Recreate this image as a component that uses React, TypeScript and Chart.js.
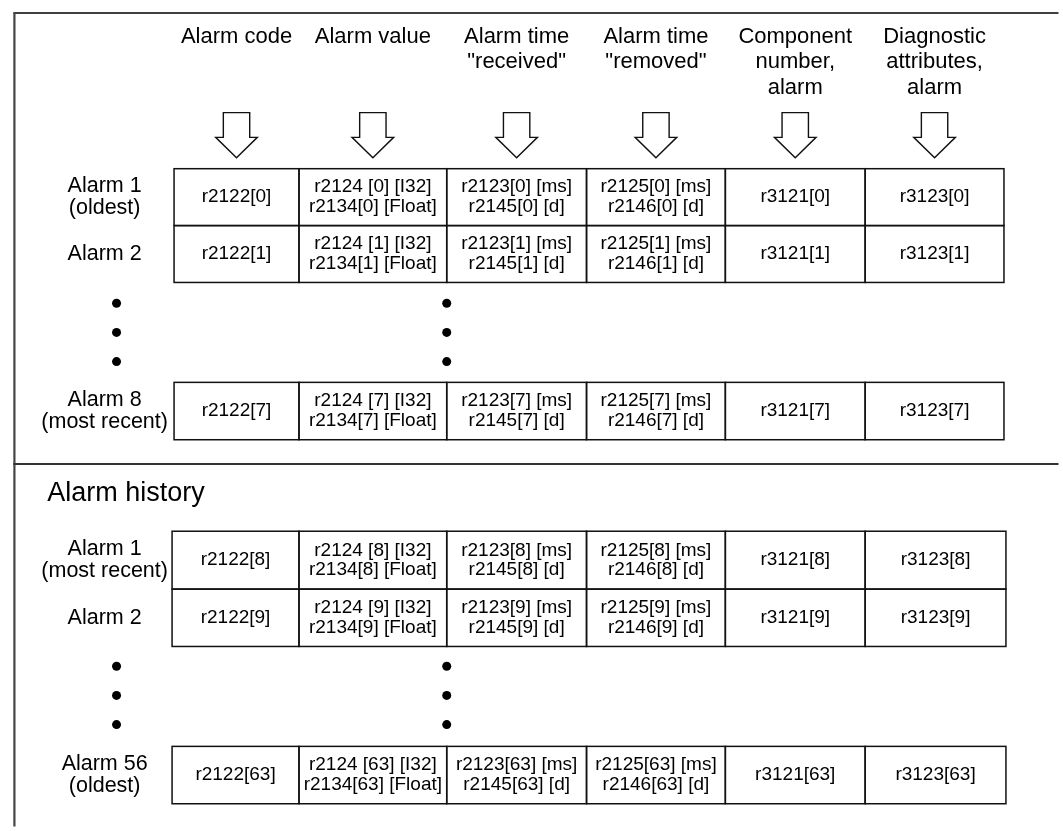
import React, { useEffect, useRef } from "react";
import { Chart, registerables } from "chart.js";

Chart.register(...registerables);

const W = 1063;
const H = 831;

// ---------- data ----------
const columnHeaders: string[][] = [
  ["Alarm code"],
  ["Alarm value"],
  ["Alarm time", "\"received\""],
  ["Alarm time", "\"removed\""],
  ["Component", "number,", "alarm"],
  ["Diagnostic", "attributes,", "alarm"],
];

const currentRowLabels: string[][] = [["Alarm 1", "(oldest)"], ["Alarm 2"], ["Alarm 8", "(most recent)"]];
const historyRowLabels: string[][] = [["Alarm 1", "(most recent)"], ["Alarm 2"], ["Alarm 56", "(oldest)"]];

const currentIndices = ["0", "1", "7"];
const historyIndices = ["8", "9", "63"];

const sectionTitle = "Alarm history";

// parameter text per column, {i} replaced by the index
const cellTemplates: string[][] = [
  ["r2122[{i}]"],
  ["r2124 [{i}] [I32]", "r2134[{i}] [Float]"],
  ["r2123[{i}] [ms]", "r2145[{i}] [d]"],
  ["r2125[{i}] [ms]", "r2146[{i}] [d]"],
  ["r3121[{i}]"],
  ["r3123[{i}]"],
];

// ---------- layout ----------
const colEdgesCurrent = [171, 297, 446, 587, 727, 868, 1008];
const colEdgesHistory = [169, 297, 446, 587, 727, 868, 1010];
// row boxes: [top, bottom]
const currentRows: [number, number][] = [[166, 223.5], [223.5, 281], [382, 440]];
const historyRows: [number, number][] = [[532.5, 591], [591, 649], [750, 808]];
const currentDotsY = [302, 331.5, 361];
const historyDotsY = [669, 698.5, 728];
const dotsX = [113, 446];
const labelX = 101;
const headerLineY = [33, 58.5, 84];
const FONT = "\"Liberation Sans\", Arial, sans-serif";

const dotPoints = [
  ...currentDotsY.flatMap((y) => dotsX.map((x) => ({ x, y }))),
  ...historyDotsY.flatMap((y) => dotsX.map((x) => ({ x, y }))),
];

const diagramPlugin = {
  id: "diagram",
  beforeDatasetsDraw(chart: any) {
    const ctx: CanvasRenderingContext2D = chart.ctx;
    const xs = chart.scales.x;
    const ys = chart.scales.y;
    const px = (v: number) => xs.getPixelForValue(v);
    const py = (v: number) => ys.getPixelForValue(v);

    ctx.save();
    ctx.fillStyle = "#fff";
    ctx.fillRect(0, 0, chart.width, chart.height);

    // frame
    ctx.strokeStyle = "#000";
    ctx.lineWidth = 1.5;
    ctx.beginPath();
    ctx.moveTo(px(9), py(8.5));
    ctx.lineTo(px(W), py(8.5));
    ctx.stroke();
    ctx.strokeStyle = "#444";
    ctx.lineWidth = 2.2;
    ctx.beginPath();
    ctx.moveTo(px(10), py(8));
    ctx.lineTo(px(10), py(H));
    ctx.stroke();
    ctx.strokeStyle = "#333";
    ctx.lineWidth = 2;
    ctx.beginPath();
    ctx.moveTo(px(9), py(464.5));
    ctx.lineTo(px(W), py(464.5));
    ctx.stroke();

    ctx.fillStyle = "#000";
    ctx.textAlign = "center";
    ctx.textBaseline = "middle";

    // headers + arrows
    columnHeaders.forEach((lines, c) => {
      const cx = (colEdgesCurrent[c] + colEdgesCurrent[c + 1]) / 2;
      ctx.font = `22px ${FONT}`;
      lines.forEach((t, k) => ctx.fillText(t, px(cx), py(headerLineY[k])));
      // arrow
      const sw = 13.3, hw = 21, top = 109.3, hy = 134.3, tip = 155;
      ctx.beginPath();
      ctx.moveTo(px(cx - sw), py(top));
      ctx.lineTo(px(cx + sw), py(top));
      ctx.lineTo(px(cx + sw), py(hy));
      ctx.lineTo(px(cx + hw), py(hy));
      ctx.lineTo(px(cx), py(tip));
      ctx.lineTo(px(cx - hw), py(hy));
      ctx.lineTo(px(cx - sw), py(hy));
      ctx.closePath();
      ctx.fillStyle = "#fff";
      ctx.fill();
      ctx.strokeStyle = "#111";
      ctx.lineWidth = 1.4;
      ctx.stroke();
      ctx.fillStyle = "#000";
    });

    const drawTable = (edges: number[], rows: [number, number][], labels: string[][], idx: string[]) => {
      rows.forEach(([t, b], r) => {
        const cy = (t + b) / 2;
        // label
        ctx.font = `21.5px ${FONT}`;
        const lab = labels[r];
        const lh = 23;
        lab.forEach((s, k) => ctx.fillText(s, px(labelX), py(cy + (k - (lab.length - 1) / 2) * lh)));
        // cells
        for (let c = 0; c < 6; c++) {
          const x0 = edges[c], x1 = edges[c + 1];
          ctx.strokeStyle = "#111";
          ctx.lineWidth = 1.5;
          ctx.strokeRect(px(x0), py(t), px(x1) - px(x0), py(b) - py(t));
          ctx.font = `19px ${FONT}`;
          const tl = cellTemplates[c].map((s) => s.replace("{i}", idx[r]));
          const clh = 20;
          tl.forEach((s, k) =>
            ctx.fillText(s, px((x0 + x1) / 2), py(cy + (k - (tl.length - 1) / 2) * clh))
          );
        }
      });
    };

    drawTable(colEdgesCurrent, currentRows, currentRowLabels, currentIndices);
    drawTable(colEdgesHistory, historyRows, historyRowLabels, historyIndices);

    // section title
    ctx.textAlign = "left";
    ctx.font = `27px ${FONT}`;
    ctx.fillText(sectionTitle, px(43), py(494));

    ctx.restore();
  },
};

export default function App() {
  const ref = useRef<HTMLCanvasElement | null>(null);
  useEffect(() => {
    if (!ref.current) return;
    const chart = new Chart(ref.current, {
      type: "scatter",
      data: {
        datasets: [
          {
            data: dotPoints,
            pointRadius: 4.5,
            pointHoverRadius: 4.5,
            backgroundColor: "#000",
            borderColor: "#000",
            borderWidth: 0,
          },
        ],
      },
      options: {
        responsive: false,
        animation: false,
        devicePixelRatio: 1,
        events: [],
        layout: { padding: 0 },
        scales: {
          x: { type: "linear", min: 0, max: W, display: false },
          y: { type: "linear", min: 0, max: H, reverse: true, display: false },
        },
        plugins: { legend: { display: false }, tooltip: { enabled: false } },
      },
      plugins: [diagramPlugin],
    } as any);
    return () => chart.destroy();
  }, []);
  return (
    <div style={{ position: "fixed", left: 0, top: 0, width: W, height: H, background: "#fff" }}>
      <canvas ref={ref} width={W} height={H} style={{ display: "block", width: W, height: H }} />
    </div>
  );
}
